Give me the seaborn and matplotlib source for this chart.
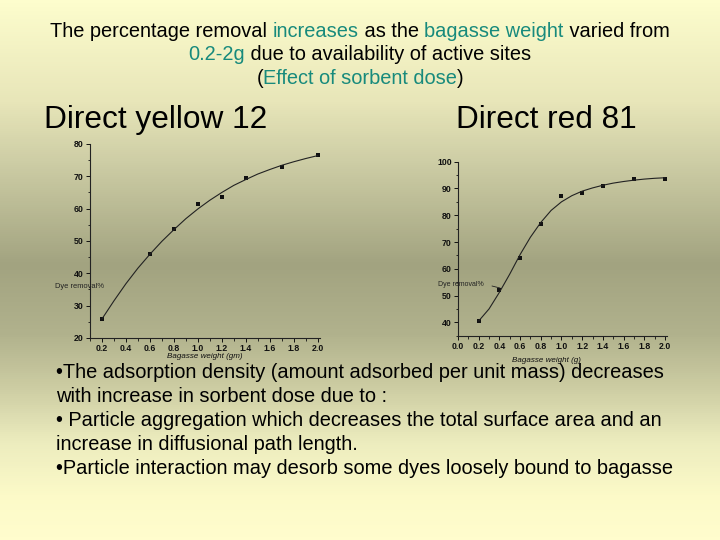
import numpy as np
import pandas as pd
import matplotlib
matplotlib.use("Agg")
import matplotlib.pyplot as plt
import seaborn as sns
from matplotlib.colors import LinearSegmentedColormap
from matplotlib.ticker import MultipleLocator

# ---------------- data ----------------
dy_weight = [0.2, 0.6, 0.8, 1.0, 1.2, 1.4, 1.7, 2.0]
dy_removal = [25.9, 46.0, 53.6, 61.3, 63.6, 69.6, 73.0, 76.5]
dy_curve_x = [0.2, 0.3, 0.4, 0.5, 0.6, 0.7, 0.8, 0.9, 1.0, 1.1, 1.2, 1.3, 1.4, 1.5, 1.6, 1.7, 1.8, 1.9, 2.0]
dy_curve_y = [25.9, 31.5, 36.8, 41.6, 45.9, 49.9, 53.5, 56.9, 59.9, 62.6, 65.0, 67.2, 69.0, 70.7, 72.1, 73.4, 74.5, 75.5, 76.4]

dr_weight = [0.2, 0.4, 0.6, 0.8, 1.0, 1.2, 1.4, 1.7, 2.0]
dr_removal = [40.6, 52.2, 64.0, 76.6, 87.0, 88.4, 90.9, 93.5, 93.6]
dr_curve_x = [0.2, 0.3, 0.4, 0.5, 0.6, 0.7, 0.8, 0.9, 1.0, 1.1, 1.2, 1.3, 1.4, 1.5, 1.6, 1.7, 1.8, 1.9, 2.0]
dr_curve_y = [40.5, 45.0, 51.2, 58.0, 65.3, 71.8, 77.3, 81.8, 85.0, 87.3, 89.0, 90.2, 91.2, 92.0, 92.6, 93.1, 93.5, 93.8, 94.0]

title_lines = [
    [("The percentage removal ", "k"), ("increases", "t"), (" as the ", "k"),
     ("bagasse weight", "t"), (" varied from", "k")],
    [("0.2-2g", "t"), (" due to availability of active sites", "k")],
    [("(", "k"), ("Effect of sorbent dose", "t"), (")", "k")],
]
body_lines = [
    "\u2022The adsorption density (amount adsorbed per unit mass) decreases",
    "with increase in sorbent dose due to :",
    "\u2022 Particle aggregation which decreases the total surface area and an",
    "increase in diffusional path length.",
    "\u2022Particle interaction may desorb some dyes loosely bound to bagasse",
]

sns.set_theme(style="ticks")
plt.rcParams['font.family'] = ['Liberation Sans', 'DejaVu Sans']

W, H = 720, 540
fig = plt.figure(figsize=(7.2, 5.4), dpi=100)

# background gradient
bg = fig.add_axes([0, 0, 1, 1], zorder=-10)
stops = [(0.0, (253, 253, 205)), (0.185, (232, 230, 185)), (0.30, (205, 205, 165)),
         (0.49, (162, 163, 128)), (0.62, (177, 178, 141)), (0.72, (205, 205, 163)),
         (0.82, (236, 236, 190)), (0.92, (252, 250, 200)), (1.0, (255, 253, 205))]
cmap = LinearSegmentedColormap.from_list("bg", [(p, tuple(c / 255 for c in col)) for p, col in stops])
grad = np.linspace(0, 1, 540).reshape(-1, 1)
bg.imshow(grad, aspect="auto", cmap=cmap, extent=[0, 1, 0, 1], origin="upper")
bg.set_axis_off()

TEAL = "#178a7c"


def px_axes(l, t, r, b):
    return fig.add_axes([l / W, 1 - b / H, (r - l) / W, (b - t) / H])


def style_ax(ax, xlim, ylim, ymaj, xticks):
    ax.patch.set_alpha(0)
    ax.set_xlim(*xlim)
    ax.set_ylim(*ylim)
    sns.despine(ax=ax)
    for s in ["left", "bottom"]:
        ax.spines[s].set_linewidth(0.8)
        ax.spines[s].set_color("#222222")
    ax.set_xticks(xticks)
    ax.xaxis.set_minor_locator(MultipleLocator(0.1))
    ax.yaxis.set_major_locator(MultipleLocator(ymaj))
    ax.yaxis.set_minor_locator(MultipleLocator(ymaj / 2))
    ax.tick_params(which="major", length=3, width=0.7, labelsize=6.3, pad=1.5, colors="#111111")
    ax.tick_params(which="minor", length=1.8, width=0.6, colors="#111111")
    for lab in ax.get_xticklabels() + ax.get_yticklabels():
        lab.set_fontweight("bold")
    ax.set_xlabel("")
    ax.set_ylabel("")
    ax.grid(False)


# chart 1
ax1 = px_axes(90, 144, 320, 338)
sns.lineplot(x=dy_curve_x, y=dy_curve_y, ax=ax1, color="#222222", lw=0.8, sort=True, estimator=None)
sns.scatterplot(x=dy_weight, y=dy_removal, ax=ax1, marker="s", s=10, color="#111111", edgecolor="#111111", linewidth=0)
style_ax(ax1, (0.1, 2.02), (20, 80), 10, [0.2, 0.4, 0.6, 0.8, 1.0, 1.2, 1.4, 1.6, 1.8, 2.0])

# chart 2
ax2 = px_axes(458, 161.7, 667, 335.7)
sns.lineplot(x=dr_curve_x, y=dr_curve_y, ax=ax2, color="#222222", lw=0.8, sort=True, estimator=None)
sns.scatterplot(x=dr_weight, y=dr_removal, ax=ax2, marker="s", s=10, color="#111111", edgecolor="#111111", linewidth=0)
style_ax(ax2, (0.0, 2.02), (35, 100), 10, [0.0, 0.2, 0.4, 0.6, 0.8, 1.0, 1.2, 1.4, 1.6, 1.8, 2.0])
ax2.set_yticks([40, 50, 60, 70, 80, 90, 100])
for lab in ax2.get_yticklabels():
    lab.set_fontweight("bold")

# axis label texts
fig.text(205 / W, 1 - 357 / H, "Bagasse weight (gm)", fontsize=5.8, style="italic",
         ha="center", va="center", color="#111111")
fig.text(546 / W, 1 - 360 / H, "Bagasse weight (g)", fontsize=5.8, style="italic",
         ha="center", va="center", color="#111111")
fig.text(55 / W, 1 - 287 / H, "Dye removal%", fontsize=5.4, ha="left", va="center", color="#222222")
fig.text(438 / W, 1 - 285 / H, "Dye removal%", fontsize=5.0, ha="left", va="center", color="#222222")
fig.add_artist(plt.Line2D([492 / W, 500 / W], [1 - 286 / H, 1 - 288 / H], lw=0.6, color="#222222"))

# headings
fig.text(44 / W, 1 - 120 / H, "Direct yellow 12", fontsize=22.8, ha="left", va="center", color="black")
fig.text(456 / W, 1 - 120 / H, "Direct red 81", fontsize=22.7, ha="left", va="center", color="black")

# multicolour title
renderer = fig.canvas.get_renderer()
TITLE_FS = 14.4


def text_width(s, fs):
    t = fig.text(0, 0, s + "|", fontsize=fs)
    bar = fig.text(0, 0, "|", fontsize=fs)
    w = t.get_window_extent(renderer).width - bar.get_window_extent(renderer).width
    t.remove()
    bar.remove()
    return w


title_y = [31, 55, 79]
for line, yc in zip(title_lines, title_y):
    full = "".join(p for p, _ in line)
    total = text_width(full, TITLE_FS)
    x0 = 360 - total / 2
    prefix = ""
    for piece, c in line:
        off = text_width(prefix, TITLE_FS) if prefix else 0.0
        fig.text((x0 + off) / W, 1 - (yc + 5.5) / H, piece, fontsize=TITLE_FS,
                 color=(TEAL if c == "t" else "black"), ha="left", va="baseline")
        prefix += piece

# body text
body_y = [373, 397, 421, 445, 469]
for s, yc in zip(body_lines, body_y):
    fig.text(56 / W, 1 - yc / H, s, fontsize=14.4, ha="left", va="center", color="black")

fig.savefig("out.png", dpi=100)
